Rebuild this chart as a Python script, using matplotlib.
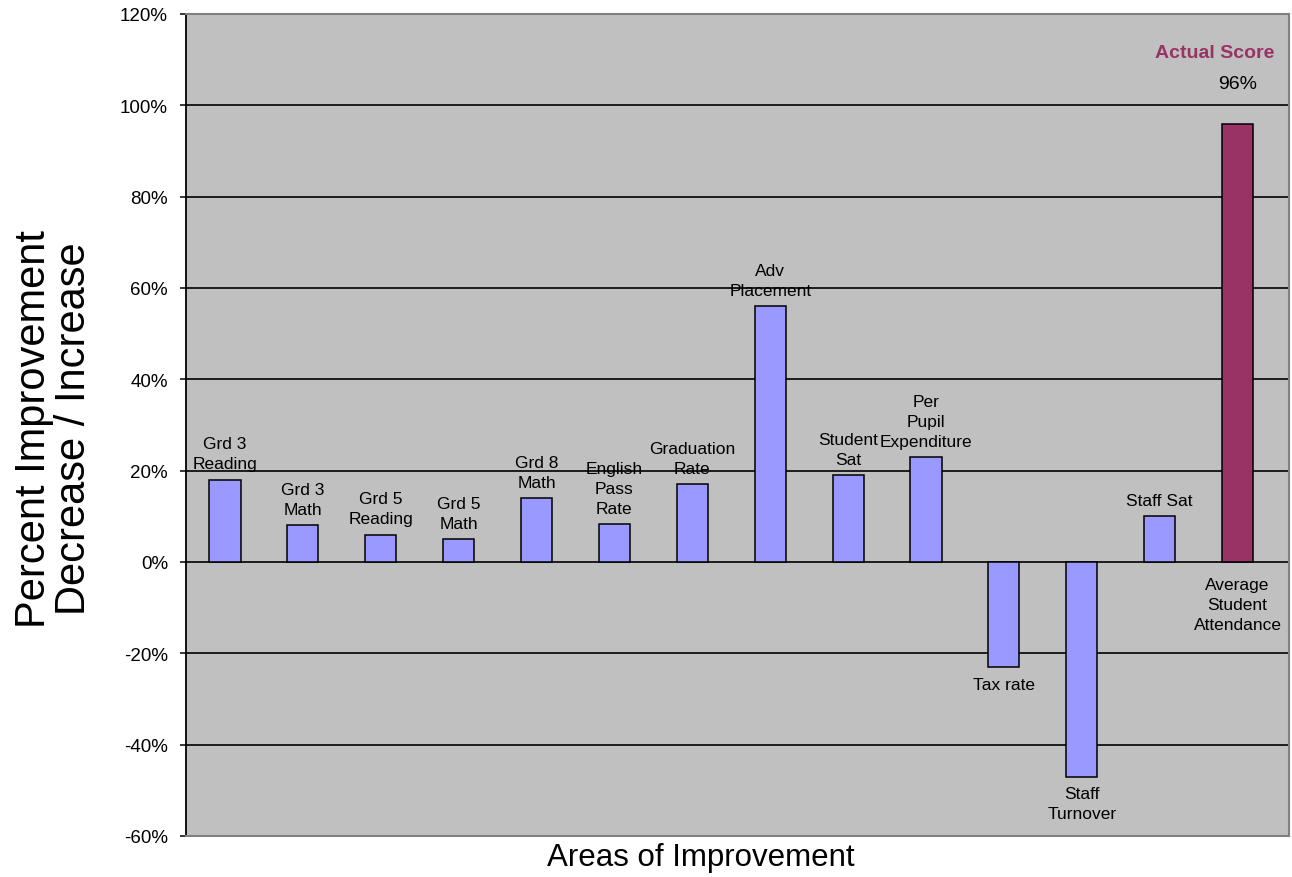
import matplotlib
matplotlib.use("Agg")
import matplotlib.pyplot as plt
from matplotlib.ticker import FuncFormatter

plt.rcParams['font.family'] = ['Liberation Sans', 'DejaVu Sans']

# Areas of improvement and their percent change
categories = [
    "Grd 3\nReading", "Grd 3\nMath", "Grd 5\nReading", "Grd 5\nMath",
    "Grd 8\nMath", "English\nPass\nRate", "Graduation\nRate", "Adv\nPlacement",
    "Student\nSat", "Per\nPupil\nExpenditure", "Tax rate", "Staff\nTurnover",
    "Staff Sat", "Average\nStudent\nAttendance",
]
values = [18, 8, 6, 5, 14, 8.3, 17, 56, 19, 23, -23, -47, 10, 96]
highlight = "Average\nStudent\nAttendance"

y_ticks = [-60, -40, -20, 0, 20, 40, 60, 80, 100, 120]

BAR = "#9999FF"
PLUM = "#993366"
BG = "#C0C0C0"

W, H = 1292, 878
fig = plt.figure(figsize=(W / 100, H / 100), dpi=100)
fig.patch.set_facecolor("white")

left, right, top, bottom = 186, 1289, 15, 837
ax = fig.add_axes([left / W, 1 - bottom / H, (right - left) / W, (bottom - top) / H])
ax.set_facecolor(BG)

x = list(range(len(categories)))
colors = [PLUM if c == highlight else BAR for c in categories]
ax.bar(x, values, width=0.4, color=colors, edgecolor="black", linewidth=1.1, zorder=3)

ax.set_xlim(-0.5, len(categories) - 0.34)
ax.set_ylim(y_ticks[0], y_ticks[-1])
ax.set_yticks(y_ticks)
ax.yaxis.set_major_formatter(FuncFormatter(lambda v, p: f"{v:.0f}%"))
ax.set_xticks([])
ax.grid(axis="y", color="black", linewidth=1.2, zorder=1)
ax.tick_params(axis="y", direction="out", length=4, width=1.1, colors="black",
               labelsize=13.5, pad=9)

for side in ("top", "right", "bottom"):
    ax.spines[side].set_color("#808080")
    ax.spines[side].set_linewidth(1.5)
ax.spines["left"].set_color("black")
ax.spines["left"].set_linewidth(1.3)

# Category labels next to each bar
lab = dict(ha="center", fontsize=12.5, linespacing=1.42, zorder=4,
           textcoords="offset points")
for xi, v, name in zip(x, values, categories):
    if name == highlight:
        ax.annotate(name, (xi, 0), xytext=(0, -11), va="top", **lab)
    elif v >= 0:
        ax.annotate(name, (xi, v), xytext=(0, 6), va="bottom", **lab)
    else:
        ax.annotate(name, (xi, v), xytext=(0, -7), va="top", **lab)

# Actual score callout for the highlighted bar
hi = categories.index(highlight)
ax.annotate("Actual Score", (1274 / W, 1 - 53 / H), xycoords="figure fraction",
            ha="right", va="center", fontsize=14, fontweight="bold", color=PLUM)
ax.annotate(f"{values[hi]:.0f}%", (hi, values[hi]), xytext=(0, 29),
            textcoords="offset points", ha="center", va="center", fontsize=14)

fig.text(701 / W, 1 - 858 / H, "Areas of Improvement", ha="center", va="center",
         fontsize=22.5)
fig.text(54 / W, 1 - 429 / H, "Percent Improvement\nDecrease / Increase",
         ha="center", va="center", rotation=90, fontsize=30, linespacing=1.0)

fig.savefig("out.png", dpi=100, facecolor="white")
